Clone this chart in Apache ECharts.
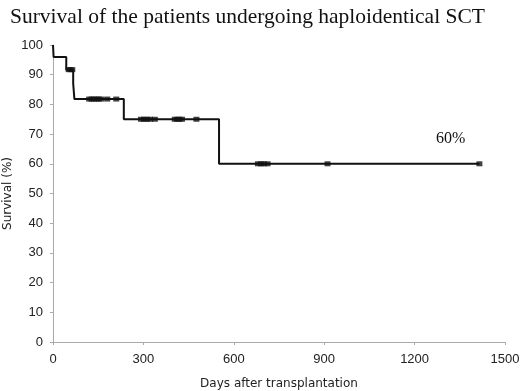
<!DOCTYPE html>
<html>
<head>
<meta charset="utf-8">
<script src="https://cdn.jsdelivr.net/npm/echarts@6/dist/echarts.min.js"></script>
<style>
  html, body { margin: 0; padding: 0; background: #fff; }
  #chart { width: 520px; height: 391px; }
</style>
</head>
<body>
<div id="chart"></div>
<script>
// Kaplan-Meier steps (day, survival %)
var stepDays = [0, 2, 44, 67, 71, 235, 551, 1415];
var stepSurvival = [100, 96, 91.7, 87, 81.8, 75, 60, 60];
// censored patients
var censorDays = [52, 58, 64, 120, 128, 136, 144, 152, 160, 180, 210, 292, 302, 312, 322, 338, 404, 412, 420, 428, 476, 680, 690, 700, 712, 911, 1415];
var censorSurvival = [91.7, 91.7, 91.7, 81.8, 81.8, 81.8, 81.8, 81.8, 81.8, 81.8, 81.8, 75, 75, 75, 75, 75, 75, 75, 75, 75, 75, 60, 60, 60, 60, 60, 60];
var xTicks = [0, 300, 600, 900, 1200, 1500];

var chart = echarts.init(document.getElementById('chart'));

var stepData = stepDays.map(function (d, i) { return [d, stepSurvival[i]]; });
var censorData = censorDays.map(function (d, i) { return [d, censorSurvival[i]]; });

chart.setOption({
  animation: false,
  title: {
    text: 'Survival of the patients undergoing haploidentical SCT',
    left: 5,
    top: 1,
    textStyle: { fontFamily: 'Liberation Serif', fontWeight: 'normal', fontSize: 21.5, color: '#111' }
  },
  grid: { left: 53, right: 15, top: 45, bottom: 49, outerBoundsMode: 'none', containLabel: false },
  xAxis: {
    type: 'value',
    min: 0,
    max: 1500,
    interval: 300,
    name: 'Days after transplantation',
    nameLocation: 'middle',
    nameGap: 36,
    nameMoveOverlap: false,
    nameTextStyle: { fontFamily: 'DejaVu Sans', fontSize: 12, color: '#222' },
    axisLine: { lineStyle: { color: '#aaa', width: 1 } },
    axisTick: { show: true, length: 3, lineStyle: { color: '#aaa' } },
    axisLabel: {
      fontFamily: 'Liberation Sans', fontSize: 13, color: '#222', margin: 11,
      formatter: function (v) { return xTicks.indexOf(v) >= 0 ? String(v) : ''; }
    },
    splitLine: { show: false }
  },
  yAxis: {
    type: 'value',
    min: 0,
    max: 100,
    interval: 10,
    name: 'Survival (%)',
    nameLocation: 'middle',
    nameGap: 39,
    nameMoveOverlap: false,
    nameTextStyle: { fontFamily: 'DejaVu Sans', fontSize: 12, color: '#222' },
    axisLine: { show: true, lineStyle: { color: '#aaa', width: 1 } },
    axisTick: { show: true, length: 3, lineStyle: { color: '#aaa' } },
    axisLabel: { fontFamily: 'Liberation Sans', fontSize: 13, color: '#222', margin: 10 },
    splitLine: { show: false }
  },
  series: [
    {
      type: 'line',
      step: 'end',
      data: stepData,
      showSymbol: false,
      lineStyle: { color: '#111', width: 2 },
      markPoint: {
        symbol: 'rect',
        symbolSize: 1,
        label: {
          show: true,
          formatter: '60%',
          fontFamily: 'Liberation Serif',
          fontSize: 16,
          color: '#111'
        },
        itemStyle: { color: 'transparent' },
        data: [{ coord: [1320, 68.3] }]
      }
    },
    {
      type: 'scatter',
      data: censorData,
      symbol: 'rect',
      symbolSize: [6, 5],
      itemStyle: { color: '#111' }
    }
  ]
});
</script>
</body>
</html>
